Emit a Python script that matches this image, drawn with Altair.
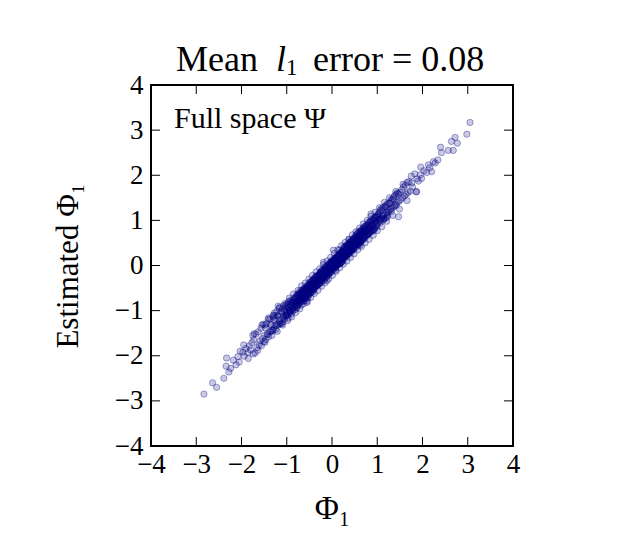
import altair as alt
import pandas as pd

# ---- data (true Phi_1 vs. estimated Phi_1) ----
x_true = [
    -2.83, -2.64, -2.55, -2.39, -2.33, -2.34, -2.28, -2.24, -2.18, -2.12, -2.08, -2.03, -2.05,
    -1.97, -1.94, -1.90, -1.86, -1.83, -1.80, -1.77, -1.75, -1.74,
    -1.73, -1.70, -1.68, -1.66, -1.63, -1.61, -1.59, -1.57, -1.56, -1.54, -1.52, -1.51,
    -1.49, -1.48, -1.46, -1.45, -1.43, -1.41, -1.40, -1.38, -1.37, -1.35, -1.34, -1.32, -1.30, -1.29, -1.27, -1.26, -1.30, -1.19,
    -1.25, -1.24, -1.22, -1.21, -1.20, -1.18, -1.17, -1.16, -1.14, -1.13, -1.12, -1.10, -1.09, -1.08, -1.07, -1.05, -1.04, -1.03, -1.02, -1.01, -1.00, -1.11,
    -0.99, -0.98, -0.97, -0.96, -0.95, -0.94, -0.93, -0.92, -0.91, -0.90, -0.89, -0.88, -0.87, -0.86, -0.85, -0.84, -0.83, -0.82, -0.81, -0.80, -0.79, -0.78, -0.78, -0.77, -0.76, -0.76, -0.75, -0.97,
    -0.74, -0.74, -0.73, -0.72, -0.71, -0.71, -0.70, -0.69, -0.68, -0.68, -0.67, -0.66, -0.65, -0.65, -0.64, -0.63, -0.62, -0.62, -0.61, -0.60, -0.59, -0.59, -0.58, -0.57, -0.56, -0.56, -0.55, -0.54, -0.53, -0.53, -0.52, -0.51, -0.51, -0.55,
    -0.50, -0.49, -0.49, -0.48, -0.47, -0.47, -0.46, -0.45, -0.45, -0.44, -0.43, -0.43, -0.42, -0.41, -0.40, -0.40, -0.39, -0.38, -0.38, -0.37, -0.36, -0.36, -0.35, -0.34, -0.33, -0.33, -0.32, -0.31, -0.31, -0.30, -0.29, -0.29, -0.28, -0.27, -0.27, -0.26, -0.26, -0.25,
    -0.25, -0.24, -0.24, -0.23, -0.22, -0.22, -0.21, -0.20, -0.20, -0.19, -0.18, -0.18, -0.17, -0.16, -0.16, -0.15, -0.14, -0.14, -0.13, -0.12, -0.12, -0.11, -0.10, -0.10, -0.09, -0.08, -0.08, -0.07, -0.06, -0.06, -0.05, -0.04, -0.04, -0.03, -0.02, -0.02, -0.01, -0.01, -0.11, -0.19,
    0.00, 0.01, 0.01, 0.02, 0.03, 0.03, 0.04, 0.05, 0.05, 0.06, 0.07, 0.07, 0.08, 0.09, 0.09, 0.10, 0.11, 0.11, 0.12, 0.13, 0.13, 0.14, 0.15, 0.15, 0.16, 0.17, 0.17, 0.18, 0.19, 0.19, 0.20, 0.21, 0.21, 0.22, 0.23, 0.23, 0.24, 0.03, 0.08, 0.16,
    0.25, 0.26, 0.26, 0.27, 0.28, 0.28, 0.29, 0.30, 0.31, 0.31, 0.32, 0.33, 0.33, 0.34, 0.35, 0.35, 0.36, 0.37, 0.37, 0.38, 0.39, 0.39, 0.40, 0.41, 0.41, 0.42, 0.43, 0.43, 0.44, 0.45, 0.45, 0.46, 0.47, 0.47, 0.48, 0.49, 0.49, 0.38,
    0.50, 0.51, 0.51, 0.52, 0.53, 0.54, 0.54, 0.55, 0.56, 0.57, 0.57, 0.58, 0.59, 0.60, 0.61, 0.61, 0.62, 0.63, 0.64, 0.64, 0.65, 0.66, 0.67, 0.67, 0.68, 0.69, 0.70, 0.70, 0.71, 0.72, 0.73, 0.73, 0.74, 0.62,
    0.75, 0.76, 0.77, 0.78, 0.79, 0.80, 0.80, 0.81, 0.82, 0.83, 0.84, 0.85, 0.86, 0.87, 0.88, 0.89, 0.90, 0.91, 0.92, 0.93, 0.94, 0.95, 0.96, 0.97, 0.98, 0.99, 0.86, 0.93,
    1.00, 1.01, 1.02, 1.04, 1.05, 1.06, 1.07, 1.09, 1.10, 1.11, 1.12, 1.13, 1.14, 1.15, 1.17, 1.18, 1.19, 1.20, 1.21, 1.22, 1.23, 1.24,
    1.26, 1.27, 1.29, 1.30, 1.32, 1.33, 1.35, 1.36, 1.38, 1.39, 1.41, 1.42, 1.44, 1.45, 1.47, 1.48,
    1.50, 1.52, 1.54, 1.56, 1.58, 1.60, 1.62, 1.64, 1.66, 1.68, 1.70, 1.73,
    1.76, 1.78, 1.83, 1.87, 1.88, 1.91, 1.95, 1.98,
    2.03, 2.09, 2.13, 2.20, 2.16, 2.24, 2.28, 2.34, 2.40, 2.42,
    2.57, 2.68, 2.64, 2.72, 2.77, 2.98, 3.05,
    -1.47, -1.42, -1.36, -1.31, -1.28, -1.23, -1.19, -1.15, -1.11, -1.06, -1.03, -0.99, -0.96, -0.93, -0.90, -0.87, -0.84, -0.81, -0.79, -0.77,
    -0.74, -0.72, -0.70, -0.68, -0.66, -0.64, -0.62, -0.60, -0.58, -0.56, -0.54, -0.52, -0.50, -0.48, -0.46, -0.44, -0.42, -0.40, -0.38, -0.36,
    -0.34, -0.32, -0.30, -0.28, -0.26, -0.24, -0.22, -0.20, -0.18, -0.16, -0.14, -0.12, -0.10, -0.08, -0.06, -0.04, -0.02, 0.00, 0.02, 0.04,
    0.06, 0.08, 0.10, 0.12, 0.14, 0.16, 0.18, 0.20, 0.22, 0.24, 0.26, 0.28, 0.30, 0.32, 0.34, 0.36, 0.38, 0.40, 0.42, 0.44,
    0.46, 0.48, 0.50, 0.52, 0.54, 0.56, 0.58, 0.60, 0.62, 0.64, 0.66, 0.68, 0.70, 0.72, 0.74, 0.77, 0.79, 0.81, 0.84, 0.87,
    0.90, 0.93, 0.96, 0.99, 1.03, 1.06, 1.11, 1.15, 1.19, 1.23, 1.28, 1.31, 1.36, 1.42, 1.47,
]
y_est = [
    -2.85, -2.60, -2.70, -2.50, -2.05, -2.23, -2.36, -2.28, -2.10, -2.20, -2.02, -1.90, -2.14,
    -1.92, -2.01, -1.84, -1.93, -1.78, -1.87, -1.71, -1.55, -1.96,
    -1.65, -1.94, -1.52, -1.82, -1.47, -1.76, -1.67, -1.39, -1.78, -1.62, -1.30, -1.69,
    -1.55, -1.32, -1.64, -1.29, -1.51, -1.19, -1.58, -1.46, -1.19, -1.47, -1.32, -1.44, -1.14, -1.41, -1.11, -1.34, -1.10, -0.90,
    -1.17, -1.42, -1.02, -1.33, -1.12, -1.30, -0.95, -1.22, -1.30, -1.03, -1.18, -0.96, -1.25, -1.12, -0.89, -1.19, -0.98, -1.13, -0.88, -1.11, -1.04, -1.29,
    -0.85, -1.08, -0.93, -0.80, -1.05, -1.00, -0.79, -1.00, -0.89, -1.08, -0.77, -0.96, -0.83, -1.00, -0.73, -0.92, -0.79, -0.98, -0.71, -0.88, -0.81, -0.94, -0.66, -0.81, -0.90, -0.64, -0.79, -1.17,
    -0.66, -0.86, -0.75, -0.60, -0.81, -0.67, -0.76, -0.55, -0.74, -0.88, -0.61, -0.72, -0.55, -0.79, -0.68, -0.53, -0.72, -0.60, -0.79, -0.50, -0.67, -0.55, -0.74, -0.47, -0.64, -0.72, -0.53, -0.64, -0.43, -0.71, -0.58, -0.49, -0.65, -0.82,
    -0.42, -0.61, -0.51, -0.36, -0.55, -0.43, -0.60, -0.35, -0.49, -0.54, -0.33, -0.45, -0.58, -0.41, -0.30, -0.52, -0.41, -0.28, -0.48, -0.41, -0.24, -0.46, -0.37, -0.44, -0.23, -0.37, -0.42, -0.23, -0.35, -0.42, -0.21, -0.33, -0.40, -0.17, -0.31, -0.38, -0.22, -0.31,
    -0.15, -0.30, -0.22, -0.13, -0.30, -0.20, -0.09, -0.28, -0.18, -0.25, -0.08, -0.22, -0.33, -0.12, -0.20, -0.03, -0.20, -0.10, -0.25, -0.04, -0.16, -0.09, -0.22, 0.00, -0.13, -0.06, -0.18, 0.01, -0.12, -0.04, -0.17, 0.06, -0.08, -0.01, -0.14, 0.08, -0.05, 0.05, -0.33, 0.07,
    0.08, -0.07, 0.03, 0.12, -0.05, 0.07, -0.04, 0.15, 0.01, 0.10, -0.05, 0.15, 0.04, 0.17, -0.01, 0.06, 0.19, 0.01, 0.08, 0.21, 0.03, 0.10, 0.23, 0.03, 0.12, 0.05, 0.25, 0.12, 0.05, 0.29, 0.14, 0.07, 0.29, 0.16, 0.09, 0.31, 0.16, 0.34, -0.10, 0.34,
    0.35, 0.18, 0.40, 0.27, 0.20, 0.42, 0.29, 0.22, 0.43, 0.31, 0.24, 0.45, 0.33, 0.26, 0.47, 0.33, 0.26, 0.49, 0.37, 0.30, 0.51, 0.39, 0.30, 0.53, 0.41, 0.34, 0.55, 0.43, 0.34, 0.57, 0.43, 0.36, 0.59, 0.47, 0.38, 0.61, 0.47, 0.58,
    0.42, 0.63, 0.53, 0.46, 0.67, 0.54, 0.46, 0.69, 0.58, 0.47, 0.73, 0.60, 0.51, 0.74, 0.61, 0.51, 0.76, 0.63, 0.54, 0.78, 0.67, 0.56, 0.79, 0.69, 0.58, 0.83, 0.72, 0.62, 0.85, 0.74, 0.63, 0.87, 0.76, 0.45,
    0.67, 0.88, 0.77, 0.68, 0.91, 0.78, 0.70, 0.95, 0.82, 0.73, 0.98, 0.85, 0.74, 0.99, 0.88, 0.77, 1.02, 0.91, 0.80, 1.05, 0.94, 0.83, 1.08, 0.97, 0.86, 1.09, 1.14, 0.78,
    1.10, 0.93, 1.14, 1.00, 1.19, 1.02, 1.23, 1.05, 1.26, 1.09, 1.00, 1.29, 1.12, 1.03, 1.31, 1.14, 1.05, 1.34, 1.17, 1.08, 1.37, 1.18,
    1.22, 1.39, 1.25, 1.44, 1.26, 1.47, 1.29, 1.52, 1.32, 1.55, 1.35, 1.58, 1.40, 1.61, 1.08, 1.42,
    1.62, 1.46, 1.68, 1.50, 1.74, 1.54, 1.78, 1.58, 1.84, 1.62, 1.86, 1.65,
    1.83, 1.74, 2.03, 1.64, 1.92, 1.87, 2.01, 1.93,
    2.10, 2.06, 2.23, 2.08, 2.17, 2.30, 2.27, 2.34, 2.62, 2.50,
    2.55, 2.55, 2.75, 2.84, 2.71, 2.91, 3.17,
    -1.38, -1.53, -1.30, -1.44, -1.20, -1.31, -1.10, -1.27, -1.03, -1.16, -0.92, -1.10, -0.87, -1.05, -0.82, -0.97, -0.76, -0.93, -0.70, -0.88,
    -0.63, -0.84, -0.62, -0.80, -0.57, -0.75, -0.52, -0.71, -0.49, -0.68, -0.45, -0.64, -0.40, -0.59, -0.37, -0.56, -0.33, -0.53, -0.29, -0.48,
    -0.24, -0.44, -0.21, -0.41, -0.17, -0.36, -0.12, -0.33, -0.09, -0.28, -0.05, -0.25, -0.01, -0.20, 0.04, -0.16, 0.07, -0.12, 0.11, -0.08,
    0.15, -0.04, 0.19, 0.01, 0.23, 0.04, 0.27, 0.08, 0.31, 0.12, 0.36, 0.16, 0.39, 0.20, 0.44, 0.24, 0.47, 0.28, 0.51, 0.32,
    0.56, 0.36, 0.59, 0.40, 0.64, 0.44, 0.67, 0.48, 0.72, 0.53, 0.75, 0.57, 0.80, 0.61, 0.84, 0.66, 0.90, 0.70, 0.95, 0.76,
    1.01, 0.82, 1.06, 0.88, 1.14, 0.95, 1.22, 1.04, 1.30, 1.12, 1.38, 1.20, 1.47, 1.33, 1.58,
]
# wider-scatter points around the band edge, as (true, estimated)
edge_pairs = [
    (-1.95, -1.76), (-1.85, -2.06), (-1.72, -1.51), (-1.64, -1.88), (-1.55, -1.32), (-1.48, -1.70),
    (-1.40, -1.16), (-1.33, -1.55), (-1.27, -1.05), (-1.21, -1.46), (-1.16, -0.93), (-1.09, -1.32),
    (-1.04, -0.84), (-0.98, -1.22), (-0.94, -0.72), (-0.89, -1.14), (-0.85, -0.63), (-0.80, -1.04),
    (-0.75, -0.55), (-0.71, -0.96), (-0.67, -0.45), (-0.63, -0.85), (-0.59, -0.39), (-0.55, -0.79),
    (-0.51, -0.30), (-0.47, -0.71), (-0.43, -0.22), (-0.39, -0.62), (-0.35, -0.14), (-0.31, -0.55),
    (-0.27, -0.07), (-0.23, -0.46), (-0.19, 0.02), (-0.15, -0.38), (-0.11, 0.10), (-0.07, -0.29),
    (-0.03, 0.18), (0.01, -0.22), (0.05, 0.27), (0.09, -0.13), (0.13, 0.35), (0.17, -0.05),
    (0.21, 0.44), (0.25, 0.03), (0.29, 0.51), (0.33, 0.10), (0.37, 0.58), (0.41, 0.18),
    (0.45, 0.68), (0.49, 0.26), (0.53, 0.75), (0.57, 0.35), (0.61, 0.83), (0.65, 0.42),
    (0.69, 0.92), (0.73, 0.50), (0.78, 1.00), (0.82, 0.58), (0.86, 1.09), (0.91, 0.67),
    (0.95, 1.18), (1.00, 0.77), (1.05, 1.28), (1.10, 0.86), (1.16, 1.40), (1.21, 0.98),
    (1.27, 1.50), (1.34, 1.11), (1.41, 1.64), (1.49, 1.25), (1.57, 1.80), (1.66, 1.44),
    (1.75, 1.98), (1.86, 1.63), (1.96, 2.18),
]
# extra points in the densest stretch, as (true, estimated)
core_pairs = [
    (-1.05, -1.01), (-1.01, -1.09), (-0.97, -0.94), (-0.93, -1.00), (-0.89, -0.84), (-0.86, -0.92),
    (-0.83, -0.80), (-0.80, -0.87), (-0.77, -0.71), (-0.74, -0.79), (-0.71, -0.68), (-0.69, -0.76),
    (-0.67, -0.62), (-0.65, -0.70), (-0.63, -0.60), (-0.61, -0.68), (-0.57, -0.52), (-0.55, -0.61),
    (-0.53, -0.50), (-0.51, -0.58), (-0.49, -0.44), (-0.47, -0.53), (-0.45, -0.41), (-0.43, -0.49),
    (-0.41, -0.38), (-0.39, -0.46), (-0.37, -0.32), (-0.35, -0.41), (-0.33, -0.30), (-0.31, -0.38),
    (-0.29, -0.24), (-0.27, -0.33), (-0.25, -0.22), (-0.23, -0.30), (-0.21, -0.16), (-0.19, -0.26),
    (-0.17, -0.14), (-0.15, -0.22), (-0.13, -0.08), (-0.11, -0.17), (-0.09, -0.06), (-0.07, -0.14),
    (-0.05, 0.00), (-0.03, -0.09), (-0.01, 0.03), (0.01, -0.05), (0.03, 0.07), (0.05, -0.01),
    (0.07, 0.12), (0.09, 0.03), (0.11, 0.15), (0.13, 0.06), (0.15, 0.20), (0.17, 0.11),
    (0.19, 0.23), (0.21, 0.14), (0.23, 0.28), (0.25, 0.19), (0.27, 0.31), (0.29, 0.22),
    (0.31, 0.36), (0.33, 0.26), (0.35, 0.39), (0.37, 0.30), (0.39, 0.44), (0.41, 0.34),
    (0.43, 0.47), (0.45, 0.38), (0.47, 0.52), (0.49, 0.42), (0.51, 0.55), (0.53, 0.46),
    (0.55, 0.60), (0.57, 0.50), (0.59, 0.63), (0.61, 0.54), (0.63, 0.68), (0.66, 0.59),
    (0.69, 0.74), (0.72, 0.65), (0.75, 0.80), (0.78, 0.71), (0.81, 0.86), (0.84, 0.77),
    (0.87, 0.92), (0.91, 0.84), (0.95, 1.00), (0.99, 0.92), (1.03, 1.08), (1.08, 1.01),
]

tick_values = [-4, -3, -2, -1, 0, 1, 2, 3, 4]
inner_ticks = [-3, -2, -1, 0, 1, 2, 3]
title_parts = ["Mean", "l", "1", "error = 0.08"]
annotation = "Full space Ψ"
x_title = "Φ₁"
y_title = "Estimated Φ₁"

# ---- styling ----
W, H = 362, 361
FONT = "Liberation Serif"
NAVY = "#000080"
TICK = 9

df = pd.concat([
    pd.DataFrame({"phi": x_true, "est": y_est}),
    pd.DataFrame(edge_pairs, columns=["phi", "est"]),
    pd.DataFrame(core_pairs, columns=["phi", "est"]),
], ignore_index=True)
tdf = pd.DataFrame({"phi": inner_ticks, "est": inner_ticks})
xs = alt.Scale(domain=[-4, 4], nice=False, zero=False)
ys = alt.Scale(domain=[-4, 4], nice=False, zero=False)

minus_labels = "(datum.value < 0 ? '\u2212' : '') + format(abs(datum.value), 'd')"
axis_common = dict(
    values=tick_values, ticks=False, domain=False, grid=False,
    labelFont=FONT, labelFontSize=27, labelColor="black", labelExpr=minus_labels,
    labelFlush=False, labelOverlap=False, labelBound=False,
    titleFont=FONT, titleFontWeight="normal", titleColor="black",
)
x_axis = alt.Axis(title=x_title, labelPadding=5, titlePadding=15, titleFontSize=33, **axis_common)
y_axis = alt.Axis(title=y_title, labelPadding=8, titlePadding=30, titleFontSize=31, **axis_common)
X = alt.X("phi:Q", scale=xs, axis=x_axis)
Y = alt.Y("est:Q", scale=ys, axis=y_axis)

points = alt.Chart(df).mark_circle(
    color=NAVY, stroke=NAVY, strokeWidth=1, fillOpacity=0.21, strokeOpacity=0.34, size=40
).encode(x=X, y=Y)

rule = dict(color="black", strokeWidth=1)
tick_bottom = alt.Chart(tdf).mark_rule(**rule).encode(x=X, y=alt.value(H), y2=alt.value(H - TICK))
tick_top = alt.Chart(tdf).mark_rule(**rule).encode(x=X, y=alt.value(0), y2=alt.value(TICK))
tick_left = alt.Chart(tdf).mark_rule(**rule).encode(y=Y, x=alt.value(0), x2=alt.value(TICK))
tick_right = alt.Chart(tdf).mark_rule(**rule).encode(y=Y, x=alt.value(W), x2=alt.value(W - TICK))


def label(txt, x, y, size, style="normal"):
    return alt.Chart(pd.DataFrame({"s": [txt]})).mark_text(
        font=FONT, fontSize=size, fontStyle=style, align="left",
        baseline="alphabetic", color="black"
    ).encode(x=alt.value(x), y=alt.value(y), text="s:N")


title_layers = [
    label(title_parts[0], 25, -14, 36),
    label(title_parts[1], 125, -14, 36, "italic"),
    label(title_parts[2], 135, -10, 23),
    label(title_parts[3], 162, -14, 36),
]
note = label(annotation, 23, 43, 30)

chart = alt.layer(
    points, tick_bottom, tick_top, tick_left, tick_right, note, *title_layers
).properties(
    width=W, height=H,
    background="white",
    padding={"left": 143, "top": 77, "right": 100, "bottom": 85},
    autosize=alt.AutoSizeParams(type="none"),
).configure_view(
    stroke="black", strokeWidth=2
)

chart.save("out.html", embed_options={"renderer": "svg", "actions": False})
